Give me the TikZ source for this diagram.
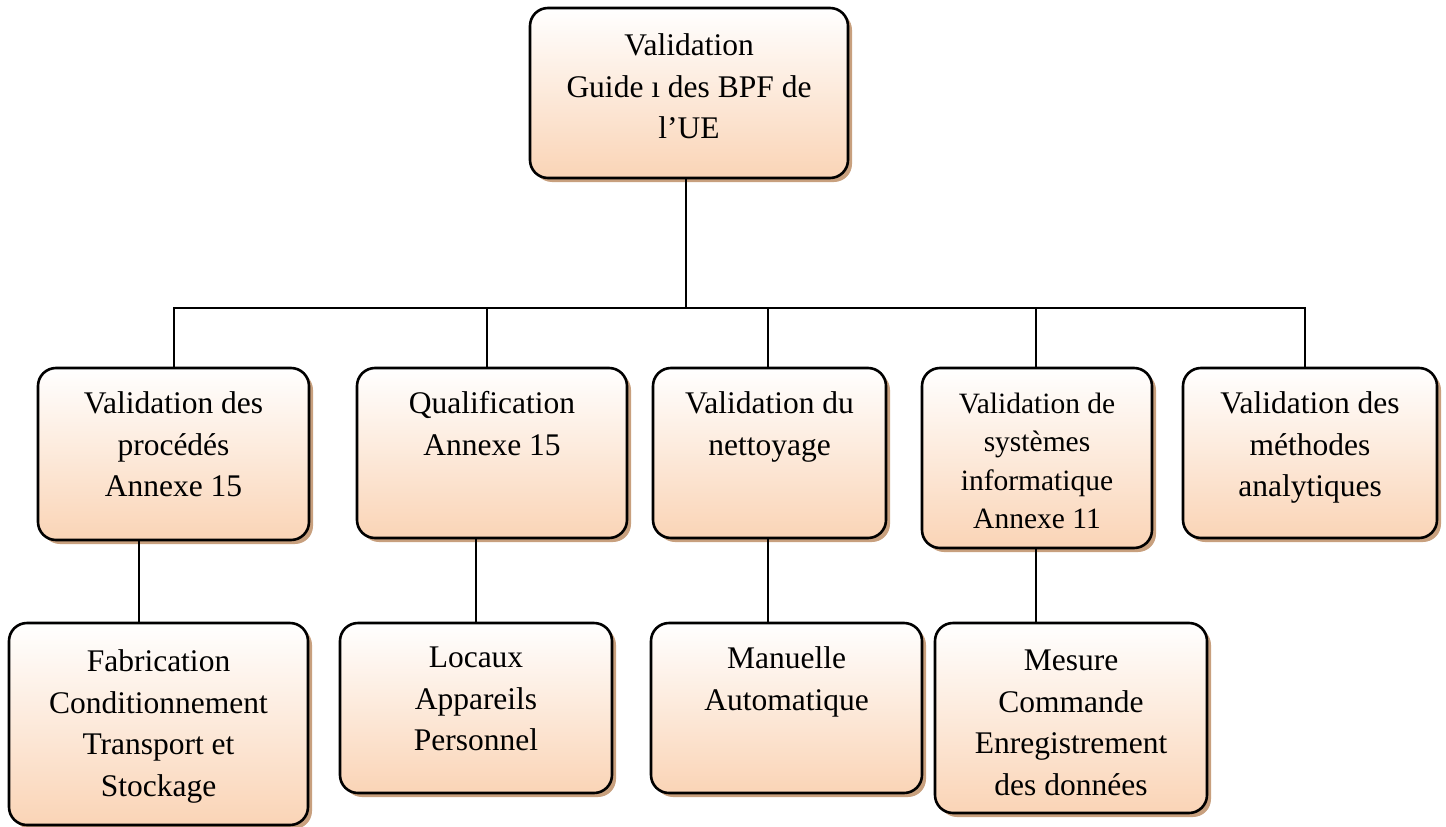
\documentclass[tikz,border=0pt]{standalone}
\usepackage{fontspec}
\setmainfont{Liberation Serif}
\usetikzlibrary{shadows}
\definecolor{peach}{RGB}{250,212,182}
\definecolor{shadowc}{RGB}{200,160,126}
\begin{document}
\begin{tikzpicture}[x=1pt,y=-1pt,
  box/.style={rectangle, rounded corners=18pt, draw=black, line width=2.6pt,
    top color=white, bottom color=peach, inner sep=0pt,
    general shadow={fill=shadowc, shadow xshift=4pt, shadow yshift=-4pt}},
  txt/.style={anchor=north, inner sep=0pt, align=center,
    font=\fontsize{31.5}{41.7}\selectfont},
  txts/.style={anchor=north, inner sep=0pt, align=center,
    font=\fontsize{29.5}{38.6}\selectfont},
  link/.style={draw=black, line width=1.6pt}]
\useasboundingbox[fill=white] (0,0) rectangle (1446,827);

% boxes
\node[box, minimum width=318pt, minimum height=170pt] (T)  at (689,93) {};
\node[box, minimum width=271pt, minimum height=172pt] (A1) at (173.5,454) {};
\node[box, minimum width=270pt, minimum height=170pt] (A2) at (492,453) {};
\node[box, minimum width=233pt, minimum height=170pt] (A3) at (769.5,453) {};
\node[box, minimum width=230pt, minimum height=180pt] (A4) at (1037,458) {};
\node[box, minimum width=254pt, minimum height=170pt] (A5) at (1310,453) {};
\node[box, minimum width=299pt, minimum height=202pt] (B1) at (158.5,724) {};
\node[box, minimum width=272pt, minimum height=170pt] (B2) at (476,708) {};
\node[box, minimum width=271pt, minimum height=170pt] (B3) at (786.5,708) {};
\node[box, minimum width=272pt, minimum height=190pt] (B4) at (1071,718) {};

% texts
\node[txt] (tT)  at (689,33.5)   {Validation\\Guide ı des BPF de\\l’UE};
\node[txt] (tA1) at (173.5,391.5) {Validation des\\procédés\\Annexe 15};
\node[txt] (tA2) at (492,391.5)   {Qualification\\Annexe 15};
\node[txt] (tA3) at (769.5,391.5) {Validation du\\nettoyage};
\node[txts] (tA4) at (1037,392.5) {Validation de\\systèmes\\informatique\\Annexe 11};
\node[txt] (tA5) at (1310,391.5)  {Validation des\\méthodes\\analytiques};
\node[txt] (tB1) at (158.5,649.5) {Fabrication\\Conditionnement\\Transport et\\Stockage};
\node[txt] (tB2) at (476,646.5)   {Locaux\\Appareils\\Personnel};
\node[txt] (tB3) at (786.5,646.5) {Manuelle\\Automatique};
\node[txt] (tB4) at (1071,649.5)  {Mesure\\Commande\\Enregistrement\\des données};

% connectors
\coordinate (bus) at (686,308);
\coordinate (xt1) at (174,0);
\coordinate (xt2) at (487,0);
\coordinate (xt3) at (768,0);
\coordinate (xt4) at (1036,0);
\coordinate (xt5) at (1305,0);
\coordinate (xa1) at (139,0);
\coordinate (xa2) at (476,0);
\coordinate (xa3) at (768,0);
\coordinate (xa4) at (1036,0);
\draw[link] (T.south -| bus) -- (bus);
\draw[link] (bus) -- (bus -| xt1) -- (A1.north -| xt1);
\draw[link] (bus) -- (bus -| xt2) -- (A2.north -| xt2);
\draw[link] (bus) -- (bus -| xt3) -- (A3.north -| xt3);
\draw[link] (bus) -- (bus -| xt4) -- (A4.north -| xt4);
\draw[link] (bus) -- (bus -| xt5) -- (A5.north -| xt5);
\draw[link] (A1.south -| xa1) -- (B1.north -| xa1);
\draw[link] (A2.south -| xa2) -- (B2.north -| xa2);
\draw[link] (A3.south -| xa3) -- (B3.north -| xa3);
\draw[link] (A4.south -| xa4) -- (B4.north -| xa4);
\end{tikzpicture}
\end{document}
